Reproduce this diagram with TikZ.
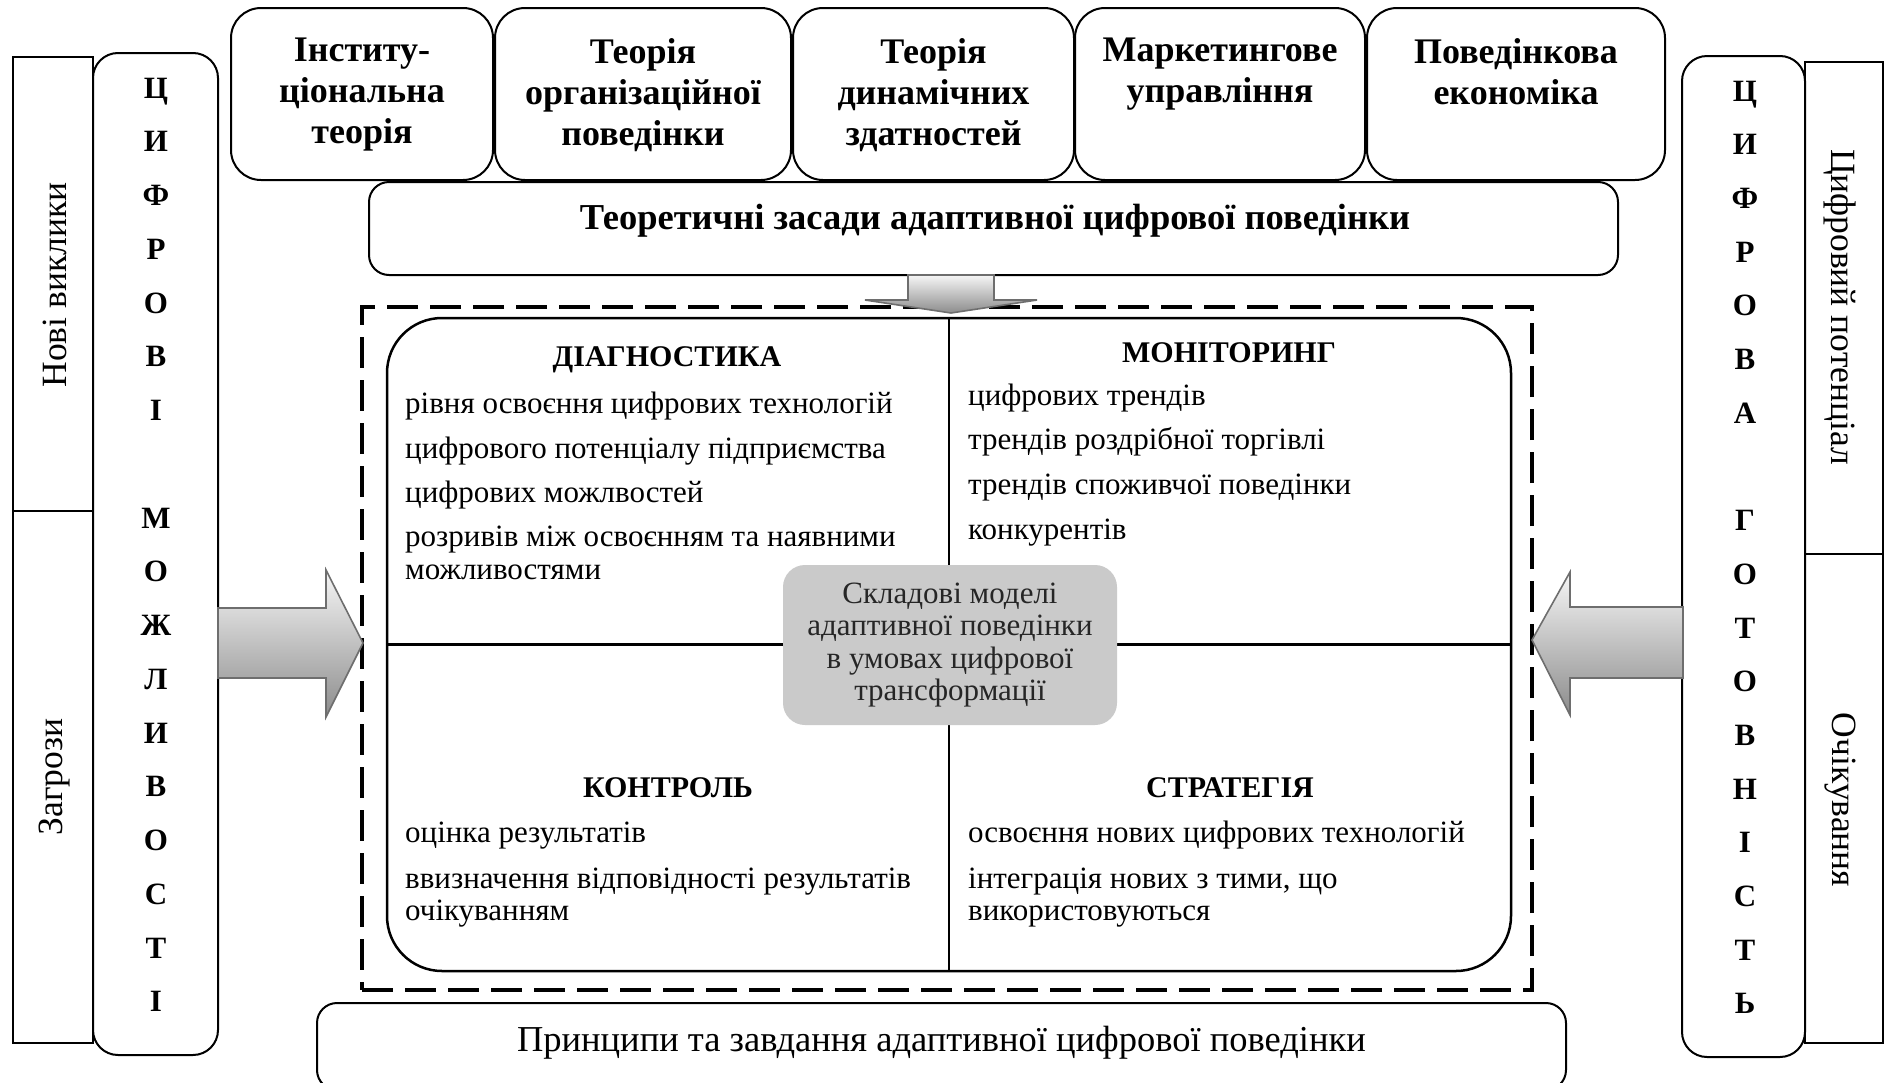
\documentclass[tikz,border=0pt]{standalone}
\usepackage{fontspec}
\setmainfont{Liberation Serif}
\usetikzlibrary{calc}
\definecolor{arrowedge}{RGB}{110,110,110}
\definecolor{arrowtop}{RGB}{246,246,246}
\definecolor{arrowbot}{RGB}{140,140,140}
\definecolor{corefill}{RGB}{202,202,202}
\begin{document}
\begin{tikzpicture}[x=1pt,y=-1pt,
  frame/.style={draw, line width=1.6pt, inner sep=0pt, outer sep=0pt},
  rbox/.style={draw, fill=white, line width=2pt, inner sep=0pt, outer sep=0pt, rounded corners=#1},
  rbox/.default=26pt,
  topfont/.style={font=\fontsize{36}{41}\selectfont\bfseries, align=center, inner sep=0pt},
  headfont/.style={font=\fontsize{36.5}{40}\selectfont\bfseries, inner sep=0pt},
  letter/.style={font=\fontsize{31}{36}\selectfont\bfseries, inner sep=0pt, anchor=base},
  sidefont/.style={font=\fontsize{35.5}{40}\selectfont, inner sep=0pt},
  qtitle/.style={font=\fontsize{30}{34}\selectfont\bfseries, inner sep=0pt, anchor=base},
  qline/.style={font=\fontsize{31}{33}\selectfont, inner sep=0pt, anchor=base west},
  arrowshade/.style={draw=arrowedge, line width=1.6pt, top color=arrowtop, bottom color=arrowbot, line join=miter},
]
\useasboundingbox (0,0) rectangle (1885,1082);

% side frames
\node[frame, minimum width=80pt, minimum height=454pt] (lotop) at (53,284) {};
\node[frame, minimum width=80pt, minimum height=532pt] (lobot) at (53,777) {};
\node[frame, minimum width=78pt, minimum height=492pt] (rotop) at (1844,308) {};
\node[frame, minimum width=78pt, minimum height=489pt] (robot) at (1844,798.5) {};
\node[sidefont, rotate=90] (tnew) at (55,285) {Нові виклики};
\node[sidefont, rotate=90] (tthreat) at (55,777) {Загрози};
\node[sidefont, rotate=-90] (tpot) at (1840,307) {Цифровий потенціал};
\node[sidefont, rotate=-90] (texp) at (1840,800) {Очікування};

% vertical word columns
\node[rbox=25pt, minimum width=125pt, minimum height=1002pt] (lcol) at (155.5,554) {};
\node[rbox=25pt, minimum width=123pt, minimum height=1001pt] (rcol) at (1743.5,556.5) {};
\foreach \ch [count=\i from 0] in {Ц,И,Ф,Р,О,В,І}
  \node[letter] (la\i) at (156,{98+53.76*\i}) {\ch};
\foreach \ch [count=\i from 8] in {М,О,Ж,Л,И,В,О,С,Т,І}
  \node[letter] (lb\i) at (156,{98+53.76*\i}) {\ch};
\foreach \ch [count=\i from 0] in {Ц,И,Ф,Р,О,В,А}
  \node[letter] (ra\i) at (1745,{101+53.7*\i}) {\ch};
\foreach \ch [count=\i from 8] in {Г,О,Т,О,В,Н,І,С,Т,Ь}
  \node[letter] (rb\i) at (1745,{101+53.7*\i}) {\ch};

% theory boxes
\node[rbox=30pt, minimum width=262pt, minimum height=172pt] (b1) at (362,94) {};
\node[rbox=30pt, minimum width=296pt, minimum height=172pt] (b2) at (643,94) {};
\node[rbox=30pt, minimum width=281pt, minimum height=172pt] (b3) at (933.5,94) {};
\node[rbox=30pt, minimum width=290pt, minimum height=172pt] (b4) at (1220,94) {};
\node[rbox=30pt, minimum width=298pt, minimum height=172pt] (b5) at (1516,94) {};
\node[topfont, anchor=north] (t1) at (362,38) {Інститу-\\ціональна\\теорія};
\node[topfont, anchor=north] (t2) at (643,38) {Теорія\\організаційної\\поведінки};
\node[topfont, anchor=north] (t3) at (933.5,38) {Теорія\\динамічних\\здатностей};
\node[topfont, anchor=north] (t4) at (1220,38) {Маркетингове\\управління};
\node[topfont, anchor=north] (t5) at (1516,38) {Поведінкова\\економіка};

\node[rbox=20pt, minimum width=1249pt, minimum height=93pt] (basis) at (993.5,228.5) {};
\node[headfont, anchor=base] (basist) at (995,229) {Теоретичні засади адаптивної цифрової поведінки};

% model block
\node[draw, line width=3.5pt, dash pattern=on 31pt off 12pt, inner sep=0pt, outer sep=0pt,
      minimum width=1170pt, minimum height=683pt] (frameout) at (947,648.5) {};
\node[rbox=55pt, line width=2.5pt, minimum width=1124pt, minimum height=653pt] (model) at (949,644.5) {};
\draw[line width=2.5pt] (model.north) -- (model.south);
\draw[line width=2.5pt] (model.west) -- (model.east);
\node[fill=corefill, rounded corners=22pt, minimum width=334pt, minimum height=160pt, inner sep=0pt,
      align=center, font=\fontsize{31}{32.5}\selectfont, text=black!85] (core) at (950,645)
      {Складові моделі\\адаптивної поведінки\\в умовах цифрової\\трансформації};

% quadrant texts
\node[qtitle] (qd) at (667,366) {ДІАГНОСТИКА};
\node[qline] (qd1) at (405,413) {рівня освоєння цифрових технологій};
\node[qline] (qd2) at (405,458) {цифрового потенціалу підприємства};
\node[qline] (qd3) at (405,502) {цифрових можлвостей};
\node[qline] (qd4) at (405,546) {розривів між освоєнням та наявними};
\node[qline] (qd5) at (405,579) {можливостями};

\node[qtitle] (qm) at (1229,362) {МОНІТОРИНГ};
\node[qline] (qm1) at (968,405) {цифрових трендів};
\node[qline] (qm2) at (968,449) {трендів роздрібної торгівлі};
\node[qline] (qm3) at (968,494) {трендів споживчої поведінки};
\node[qline] (qm4) at (968,539) {конкурентів};

\node[qtitle] (qk) at (668,797) {КОНТРОЛЬ};
\node[qline] (qk1) at (405,842) {оцінка результатів};
\node[qline] (qk2) at (405,888) {ввизначення відповідності результатів};
\node[qline] (qk3) at (405,920) {очікуванням};

\node[qtitle] (qs) at (1230,797) {СТРАТЕГІЯ};
\node[qline] (qs1) at (968,842) {освоєння нових цифрових технологій};
\node[qline] (qs2) at (968,888) {інтеграція нових з тими, що};
\node[qline] (qs3) at (968,920) {використовуються};

% bottom box
\node[rbox=20pt, minimum width=1249pt, minimum height=87pt] (princ) at (941.5,1046.5) {};
\node[sidefont, font=\fontsize{36.5}{40}\selectfont, anchor=base] (princt) at (941.5,1051) {Принципи та завдання адаптивної цифрової поведінки};

% block arrows
\draw[arrowshade] (218,608) -- (326,608) -- (326,570) -- (363,643) -- (326,717) -- (326,678) -- (218,678) -- cycle;
\draw[arrowshade] (1683,607) -- (1570,607) -- (1570,572) -- (1532,640) -- (1570,715) -- (1570,678) -- (1683,678) -- cycle;
\draw[arrowshade] (908,275) -- (994,275) -- (994,300) -- (1037,300) -- (951,313) -- (865,300) -- (908,300) -- cycle;
\end{tikzpicture}
\end{document}
